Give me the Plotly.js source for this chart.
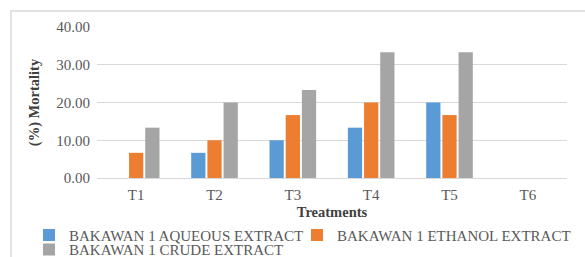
<!DOCTYPE html>
<html><head><meta charset="utf-8">
<script src="https://cdn.plot.ly/plotly-3.0.1.min.js"></script>
<style>html,body{margin:0;padding:0;background:#fff;}#chart{width:585px;height:257px;}</style>
</head><body><div id="chart"></div>
<script>
const categories = ["T1", "T2", "T3", "T4", "T5", "T6"];
const seriesNames = ["BAKAWAN 1 AQUEOUS EXTRACT", "BAKAWAN 1 ETHANOL EXTRACT", "BAKAWAN 1 CRUDE EXTRACT"];
const aqueous = [0, 6.67, 10.00, 13.33, 20.00, 0];
const ethanol = [6.67, 10.00, 16.67, 20.00, 16.67, 0];
const crude = [13.33, 20.00, 23.33, 33.33, 33.33, 0];
const yTicks = [0, 10, 20, 30, 40];
const colors = ["#5B9BD5", "#ED7D31", "#A5A5A5"];
const legendRefs = ["legend", "legend2", "legend3"];

const font = "Liberation Serif, Times New Roman, serif";
const data = [aqueous, ethanol, crude].map((v, i) => ({
  type: "bar", x: categories, y: v, name: seriesNames[i],
  marker: {color: colors[i]}, hoverinfo: "none", legend: legendRefs[i]
}));

const legendCommon = {orientation: "h", xanchor: "left", yanchor: "top",
  font: {family: font, size: 15, color: "#595959"}, traceorder: "normal",
  itemwidth: 30, tracegroupgap: 0, bgcolor: "rgba(0,0,0,0)"};

const layout = {
  width: 585, height: 257,
  margin: {l: 97, r: 18, t: 27, b: 79, autoexpand: false},
  paper_bgcolor: "#fff", plot_bgcolor: "#fff",
  barmode: "group", bargap: 0.38, bargroupgap: 0.12,
  font: {family: font, size: 15, color: "#595959"},
  showlegend: true,
  legend: Object.assign({}, legendCommon, {x: -0.1447, y: -0.27}),
  legend2: Object.assign({}, legendCommon, {x: 0.4255, y: -0.27}),
  legend3: Object.assign({}, legendCommon, {x: -0.1447, y: -0.366}),
  xaxis: {type: "category", showgrid: false, zeroline: false, showline: false,
    ticks: "", ticklabelstandoff: 6, tickfont: {family: font, size: 15, color: "#595959"},
    title: {text: "<b>Treatments</b>", font: {family: font, size: 14.5, color: "#404040"}, standoff: 4}},
  yaxis: {range: [0, 40], tickvals: yTicks, ticktext: yTicks.map(v => v.toFixed(2)),
    showgrid: true, gridcolor: "#D9D9D9", gridwidth: 1, zeroline: true, zerolinecolor: "#D9D9D9",
    showline: false, ticks: "", ticklen: 0, ticklabelstandoff: 6,
    tickfont: {family: font, size: 15, color: "#595959"},
    title: {text: "<b>(%) Mortality</b>", font: {family: font, size: 14.5, color: "#404040"}, standoff: 13}},
  shapes: [{type: "rect", xref: "paper", yref: "paper", x0: -0.183, x1: 1.2, y0: -0.6, y1: 1.106,
    line: {color: "#D9D9D9", width: 1.5}, fillcolor: "rgba(0,0,0,0)", layer: "below"}]
};
Plotly.newPlot("chart", data, layout, {displayModeBar: false, staticPlot: true});
</script></body></html>
